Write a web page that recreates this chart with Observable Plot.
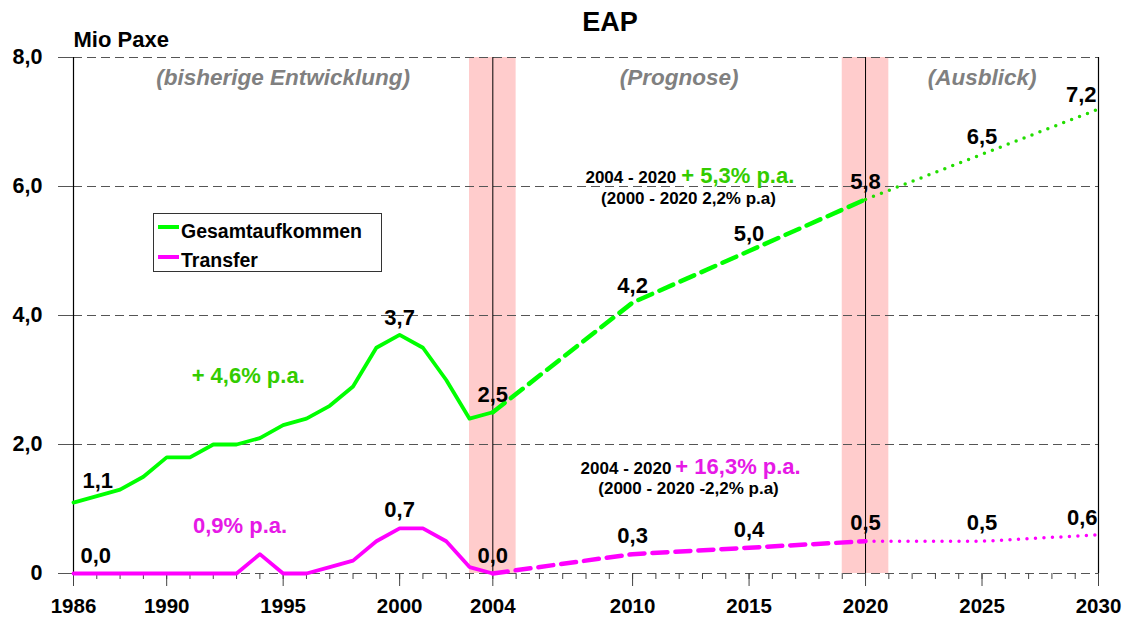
<!DOCTYPE html>
<html>
<head>
<meta charset="utf-8">
<script src="https://cdn.jsdelivr.net/npm/d3@7"></script>
<script src="https://cdn.jsdelivr.net/npm/@observablehq/plot@0.6"></script>
<style>
  html, body { margin: 0; padding: 0; background: #fff; }
  #wrap { position: relative; width: 1130px; height: 621px; font-family: "Liberation Sans", Arial, sans-serif; }
  #legend { position: absolute; left: 153px; top: 213px; width: 229px; height: 59px; border: 1px solid #333; background: #fff; box-sizing: border-box; }
  #legend .sw { position: absolute; left: 4px; width: 21px; height: 4px; }
  #legend .lb { position: absolute; left: 27px; font-weight: bold; font-size: 19.5px; line-height: 19px; white-space: nowrap; color: #000; }
</style>
</head>
<body>
<div id="wrap"></div>
<script>
// ---------- data ----------
const histYears = [1986,1987,1988,1989,1990,1991,1992,1993,1994,1995,1996,1997,1998,1999,2000,2001,2002,2003,2004];
const gesamtHist = [1.1,1.2,1.3,1.5,1.8,1.8,2.0,2.0,2.1,2.3,2.4,2.6,2.9,3.5,3.7,3.5,3.0,2.4,2.5];
const transferHist = [0.0,0.0,0.0,0.0,0.0,0.0,0.0,0.0,0.3,0.0,0.0,0.1,0.2,0.5,0.7,0.7,0.5,0.1,0.0];

const prognoseYears = [2004,2010,2015,2020];
const gesamtPrognose = [2.5,4.2,5.0,5.8];
const transferPrognose = [0.0,0.3,0.4,0.5];

const ausblickYears = [2020,2025,2030];
const gesamtAusblick = [5.8,6.5,7.2];
const transferAusblick = [0.5,0.5,0.6];

const labelYears = [1986,2000,2004,2010,2015,2020,2025,2030];
const gesamtLabelValues = [1.1,3.7,2.5,4.2,5.0,5.8,6.5,7.2];
const transferLabelValues = [0.0,0.7,0.0,0.3,0.4,0.5,0.5,0.6];

const allYears = d3.range(1986, 2031);
const majorYears = [1986,1990,1995,2000,2004,2010,2015,2020,2025,2030];
const yTicks = [0,2,4,6,8];
const bandStart = [2003,2019];
const bandEnd = [2005,2021];
const markerYears = [2004,2020];
const frameYears = [1986,2030];

const seriesNames = ["Gesamtaufkommen","Transfer"];
const seriesColors = ["#00FF00","#FF00FF"];

const title = "EAP";
const unitLabel = "Mio Paxe";
const phaseTexts = ["(bisherige Entwicklung)","(Prognose)","(Ausblick)"];
const phaseYears = [1995,2012,2025];

// ---------- helpers ----------
const zip = (xs, ys) => xs.map((x, i) => ({year: x, value: ys[i]}));
const fmt = v => v.toFixed(1).replace(".", ",");
const FONT = '"Liberation Sans", Arial, sans-serif';
const GREEN = seriesColors[0], MAGENTA = seriesColors[1];
const GREEN_TXT = "#33CC00", MAGENTA_TXT = "#E619E6";

const gLabels = zip(labelYears, gesamtLabelValues);
const tLabels = zip(labelYears, transferLabelValues);
const bands = bandStart.map((s, i) => ({x1: s, x2: bandEnd[i]}));

const valueText = (data, opts) => Plot.text(data, {
  x: "year", y: "value", text: d => fmt(d.value),
  fontSize: 22, fontWeight: "bold", fill: "#000", ...opts
});

const chart = Plot.plot({
  width: 1130, height: 621,
  marginLeft: 73, marginRight: 32, marginTop: 57, marginBottom: 48,
  x: {domain: [1986, 2030], label: null},
  y: {domain: [0, 8], label: null},
  style: {fontFamily: FONT, background: "transparent", overflow: "visible", color: "#000"},
  marks: [
    Plot.rect(bands, {x1: "x1", x2: "x2", fill: "#FFCCCC"}),
    Plot.ruleY(yTicks, {stroke: "#555", strokeWidth: 1.2, strokeDasharray: "9,5"}),
    Plot.ruleX(frameYears, {stroke: "#000", strokeWidth: 1.2}),
    Plot.ruleX(markerYears, {stroke: "#000", strokeWidth: 1}),
    Plot.axisY({ticks: yTicks, tickSize: 15, tickPadding: 16, stroke: "#555",
      tickFormat: d => d === 0 ? "0" : fmt(d), fontSize: 21.5, fontWeight: "bold", fill: "#000"}),
    Plot.axisX({ticks: allYears, tickSize: 6, stroke: "#444", tickFormat: () => ""}),
    Plot.axisX({ticks: majorYears, tickSize: 13, tickPadding: 12, stroke: "#444",
      tickFormat: d => String(d), fontSize: 20.5, fontWeight: "bold", fill: "#000"}),

    // series lines
    Plot.line(zip(histYears, gesamtHist), {x: "year", y: "value", stroke: GREEN, strokeWidth: 3.8}),
    Plot.line(zip(histYears, transferHist), {x: "year", y: "value", stroke: MAGENTA, strokeWidth: 3.8}),
    Plot.line(zip(prognoseYears, gesamtPrognose), {x: "year", y: "value", stroke: GREEN, strokeWidth: 4.5, strokeDasharray: "15,8"}),
    Plot.line(zip(prognoseYears, transferPrognose), {x: "year", y: "value", stroke: MAGENTA, strokeWidth: 4.5, strokeDasharray: "15,8"}),
    Plot.line(zip(ausblickYears, gesamtAusblick), {x: "year", y: "value", stroke: "#22DD00", strokeWidth: 3.5, strokeDasharray: "0,8.5", strokeLinecap: "round"}),
    Plot.line(zip(ausblickYears, transferAusblick), {x: "year", y: "value", stroke: MAGENTA, strokeWidth: 3.5, strokeDasharray: "0,8.5", strokeLinecap: "round"}),

    // value labels
    valueText(gLabels.slice(0, 1), {textAnchor: "start", dx: 9, dy: -22}),
    valueText(gLabels.slice(1, -1), {dy: -17}),
    valueText(gLabels.slice(-1), {textAnchor: "end", dx: -2, dy: -14}),
    valueText(tLabels.slice(0, 1), {textAnchor: "start", dx: 7, dy: -18}),
    valueText(tLabels.slice(1, -1), {dy: -18}),
    valueText(tLabels.slice(-1), {textAnchor: "end", dx: -1, dy: -17}),

    // phase captions
    Plot.text(phaseTexts, {x: (d, i) => phaseYears[i], y: 7.69, fill: "#808080",
      fontSize: 22.5, fontWeight: "bold", fontStyle: "italic"}),

    // growth annotations
    Plot.text(["+ 4,6% p.a."], {x: 1993.5, y: 3.07, fill: GREEN_TXT, fontSize: 22, fontWeight: "bold"}),
    Plot.text(["0,9% p.a."], {x: 1993.15, y: 0.73, fill: MAGENTA_TXT, fontSize: 22, fontWeight: "bold"}),

    Plot.text(["2004 - 2020"], {x: 2012, y: 6.054, textAnchor: "end", lineAnchor: "bottom", dx: -3, fill: "#000", fontSize: 17, fontWeight: "bold"}),
    Plot.text(["+ 5,3% p.a."], {x: 2012, y: 6.054, textAnchor: "start", lineAnchor: "bottom", dx: 2, fill: GREEN_TXT, fontSize: 22, fontWeight: "bold"}),
    Plot.text(["(2000 - 2020 2,2% p.a)"], {x: 2012.4, y: 5.736, lineAnchor: "bottom", fill: "#000", fontSize: 17, fontWeight: "bold"}),

    Plot.text(["2004 - 2020"], {x: 2011.75, y: 1.55, textAnchor: "end", lineAnchor: "bottom", dx: -2, fill: "#000", fontSize: 17, fontWeight: "bold"}),
    Plot.text(["+ 16,3% p.a."], {x: 2011.75, y: 1.55, textAnchor: "start", lineAnchor: "bottom", dx: 2, fill: MAGENTA_TXT, fontSize: 22, fontWeight: "bold"}),
    Plot.text(["(2000 - 2020 -2,2% p.a)"], {x: 2012.4, y: 1.233, lineAnchor: "bottom", fill: "#000", fontSize: 17, fontWeight: "bold"}),

    // title and unit
    Plot.text([title], {frameAnchor: "top", dx: 24, dy: -27, lineAnchor: "bottom", fontSize: 27, fontWeight: "bold", fill: "#000"}),
    Plot.text([unitLabel], {frameAnchor: "top-left", dy: -11, textAnchor: "start", lineAnchor: "bottom", fontSize: 22, fontWeight: "bold", fill: "#000"})
  ]
});

const wrap = document.getElementById("wrap");
wrap.appendChild(chart);

// legend
const legend = document.createElement("div");
legend.id = "legend";
seriesNames.forEach((name, i) => {
  const sw = document.createElement("div");
  sw.className = "sw";
  sw.style.top = (11 + i * 30) + "px";
  sw.style.background = seriesColors[i];
  const lb = document.createElement("div");
  lb.className = "lb";
  lb.style.top = (8 + i * 29) + "px";
  lb.textContent = name;
  legend.appendChild(sw);
  legend.appendChild(lb);
});
wrap.appendChild(legend);
</script>
</body>
</html>
